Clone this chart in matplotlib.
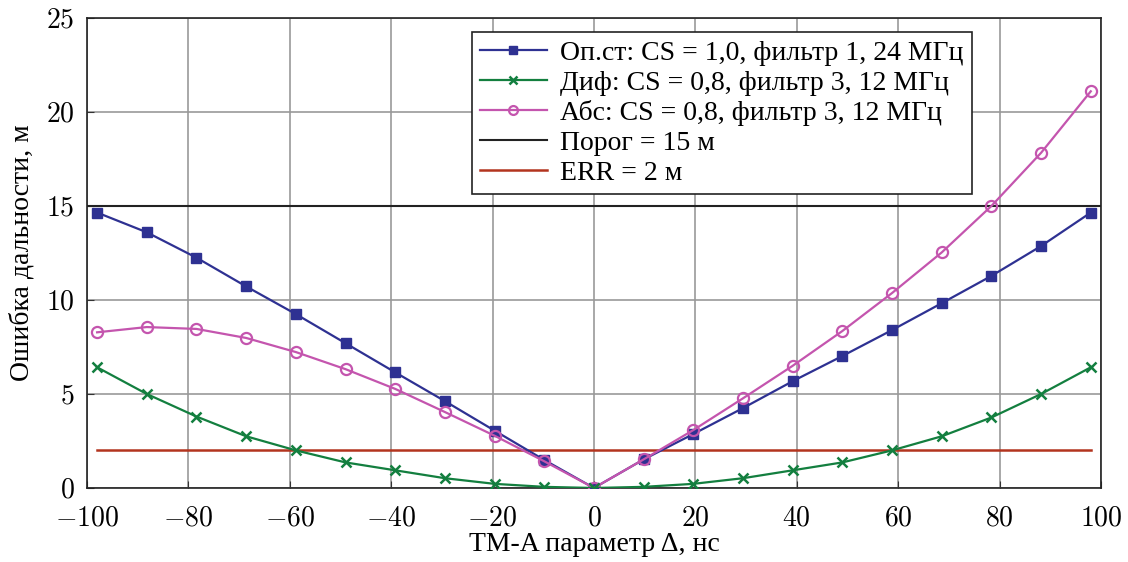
import matplotlib
matplotlib.use("Agg")
import matplotlib.pyplot as plt
import numpy as np

# Data
x = [-98, -88.2, -78.4, -68.6, -58.8, -49, -39.2, -29.4, -19.6, -9.8, 0,
     9.8, 19.6, 29.4, 39.2, 49, 58.8, 68.6, 78.4, 88.2, 98]
opst = [14.65, 13.6, 12.25, 10.72, 9.25, 7.7, 6.15, 4.62, 3.05, 1.49, 0.0,
        1.52, 2.87, 4.25, 5.68, 7.02, 8.4, 9.83, 11.28, 12.87, 14.65]
dif = [6.42, 5.0, 3.8, 2.75, 2.0, 1.36, 0.94, 0.52, 0.22, 0.06, 0.0,
       0.06, 0.22, 0.52, 0.94, 1.36, 2.0, 2.75, 3.75, 5.0, 6.42]
abs_ = [8.28, 8.56, 8.46, 7.98, 7.23, 6.32, 5.27, 4.04, 2.78, 1.42, 0.0,
        1.52, 3.08, 4.77, 6.5, 8.35, 10.37, 12.53, 15.0, 17.83, 21.1]
threshold = 15
err = 2
xticks = [-100, -80, -60, -40, -20, 0, 20, 40, 60, 80, 100]
yticks = [0, 5, 10, 15, 20, 25]
labels = ['Оп.ст: CS = 1,0, фильтр 1, 24 МГц',
          'Диф: CS = 0,8, фильтр 3, 12 МГц',
          'Абс: CS = 0,8, фильтр 3, 12 МГц',
          'Порог = 15 м',
          'ERR = 2 м']

plt.rcParams['font.family'] = ['Liberation Serif', 'DejaVu Serif']
plt.rcParams['mathtext.fontset'] = 'cm'

fig = plt.figure(figsize=(11.28, 5.62), dpi=100)
ax = fig.add_axes([0.0771, 0.1317, 0.976 - 0.0771, 0.968 - 0.1317])

c_blue = '#2E3192'
c_green = '#137F3F'
c_pink = '#C455AE'
c_red = '#B3341E'

ax.plot(x, opst, '-', color=c_blue, lw=1.6, marker='s', ms=6.5,
        mfc=c_blue, mec=c_blue, label=labels[0], zorder=4)
ax.plot(x, dif, '-', color=c_green, lw=1.6, marker='x', ms=6.5, mew=1.8,
        label=labels[1], zorder=5)
ax.plot(x, abs_, '-', color=c_pink, lw=1.6, marker='o', ms=8, mfc='none',
        mec=c_pink, mew=1.6, label=labels[2], zorder=4)
ax.axhline(threshold, color='#222222', lw=1.5, label=labels[3], zorder=3)
ax.plot([x[0], x[-1]], [err, err], color=c_red, lw=1.8, label=labels[4], zorder=3)

ax.set_xlim(-100, 100)
ax.set_ylim(0, 25)
ax.set_xticks(xticks)
ax.set_yticks(yticks)
ax.set_xticklabels(['$-%d$' % -v if v < 0 else '$%d$' % v for v in xticks])
ax.set_yticklabels(['$%d$' % v for v in yticks])
ax.tick_params(labelsize=20, direction='in', length=5, color='#333333')
ax.tick_params(axis='x', pad=13)
ax.tick_params(axis='y', pad=9)
ax.grid(True, color='#999999', lw=1.2)
ax.set_axisbelow(True)
for s in ax.spines.values():
    s.set_color('#222222')
    s.set_linewidth(1.2)

ax.set_xlabel('TM-A параметр Δ, нс', fontsize=20, labelpad=1)
ax.set_ylabel('Ошибка дальности, м', fontsize=20, labelpad=8)

leg = ax.legend(loc='upper right', bbox_to_anchor=(0.873, 0.97), fontsize=20,
                frameon=True, fancybox=False, edgecolor='#222222', framealpha=1,
                handlelength=2.4, handletextpad=0.5, borderpad=0.3, labelspacing=0.16,
                borderaxespad=0, markerscale=0.8)
leg.get_frame().set_linewidth(1.2)

fig.savefig('out.png', dpi=100)
